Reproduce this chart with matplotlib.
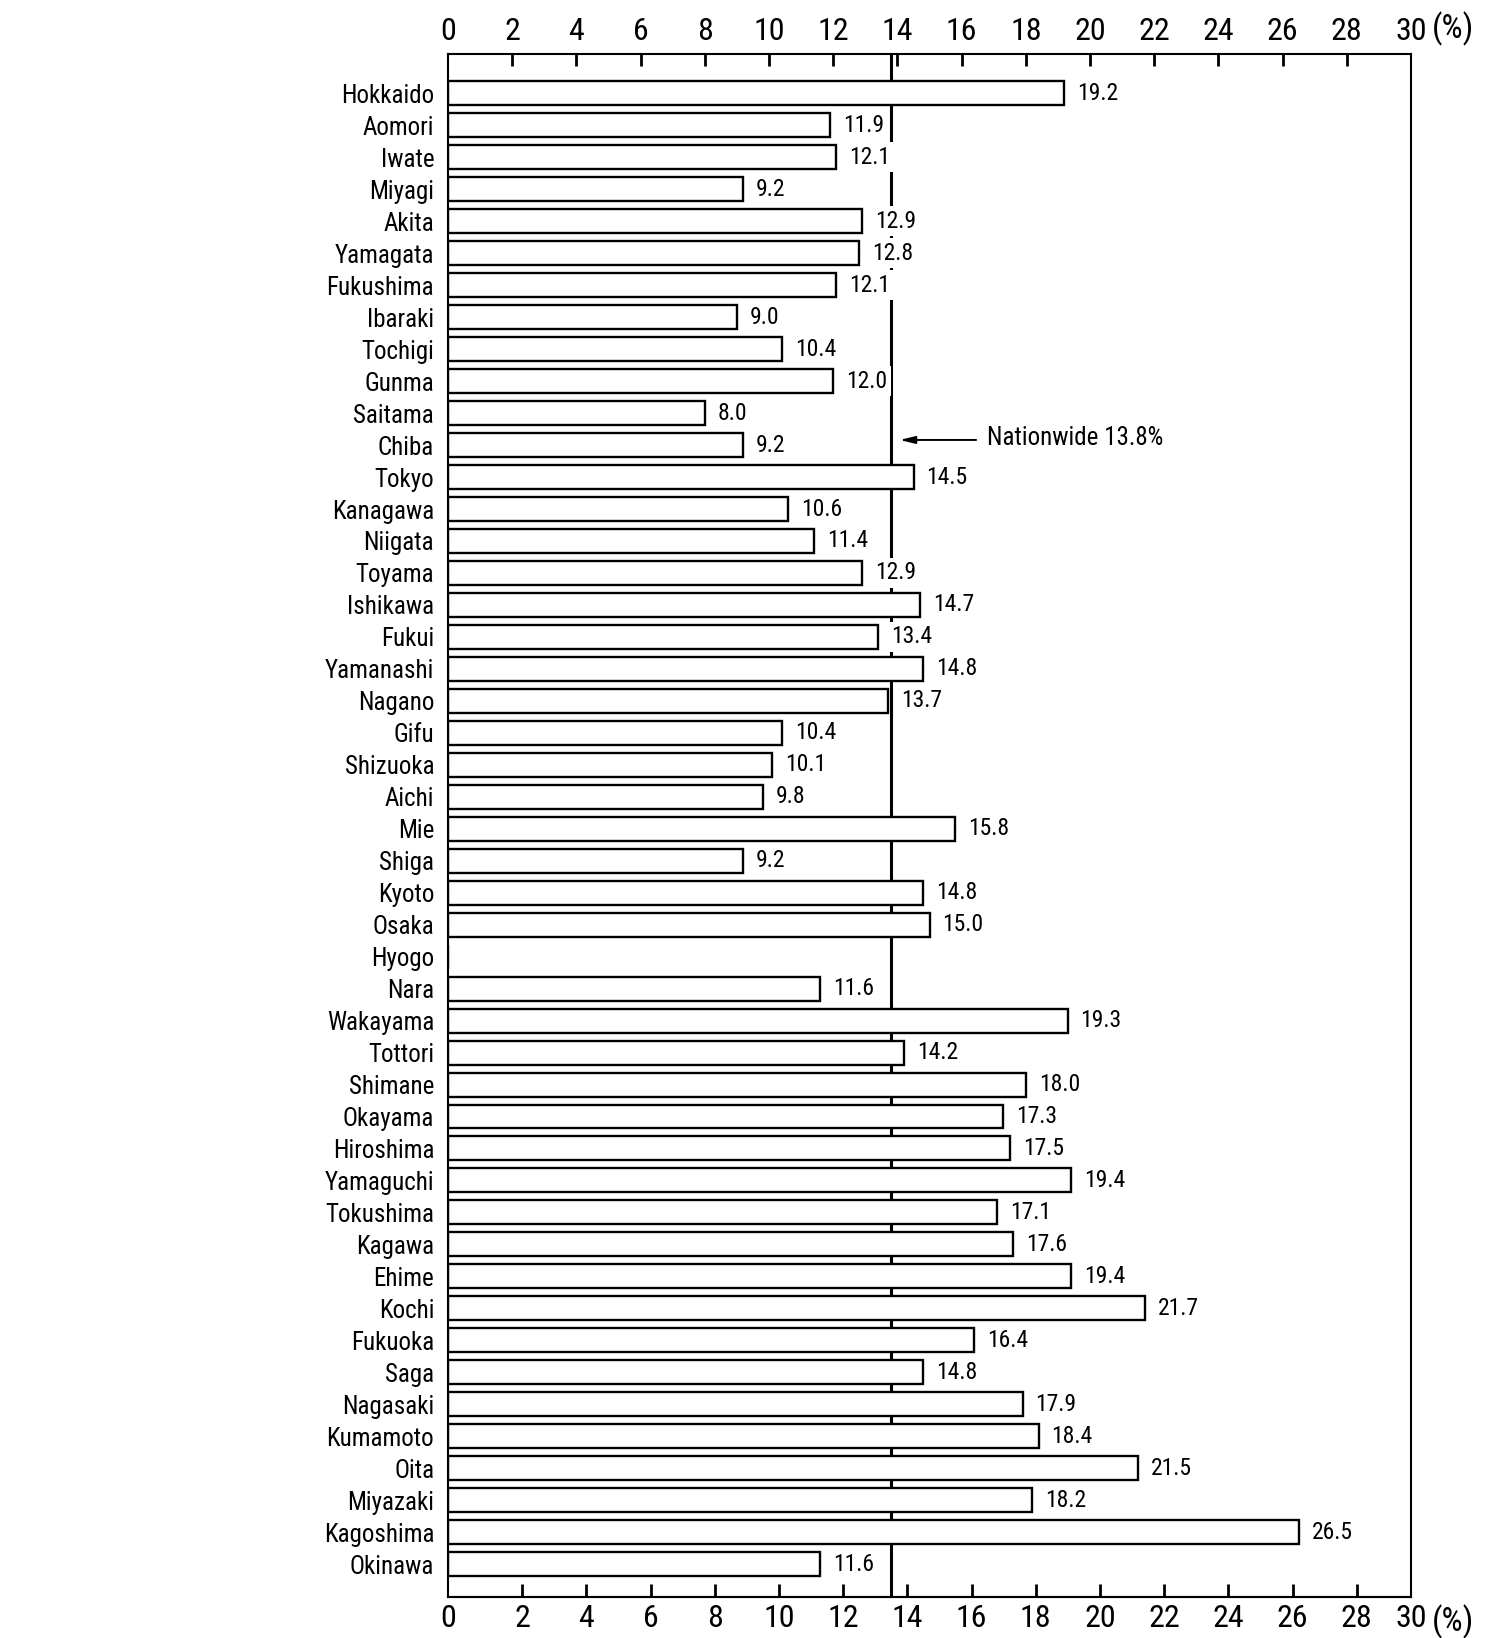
import numpy as np
import matplotlib
matplotlib.use("Agg")
import matplotlib.pyplot as plt
from matplotlib import font_manager

prefectures = ["Hokkaido", "Aomori", "Iwate", "Miyagi", "Akita", "Yamagata", "Fukushima",
               "Ibaraki", "Tochigi", "Gunma", "Saitama", "Chiba", "Tokyo", "Kanagawa",
               "Niigata", "Toyama", "Ishikawa", "Fukui", "Yamanashi", "Nagano", "Gifu",
               "Shizuoka", "Aichi", "Mie", "Shiga", "Kyoto", "Osaka", "Hyogo", "Nara",
               "Wakayama", "Tottori", "Shimane", "Okayama", "Hiroshima", "Yamaguchi",
               "Tokushima", "Kagawa", "Ehime", "Kochi", "Fukuoka", "Saga", "Nagasaki",
               "Kumamoto", "Oita", "Miyazaki", "Kagoshima", "Okinawa"]
values = [19.2, 11.9, 12.1, 9.2, 12.9, 12.8, 12.1,
          9.0, 10.4, 12.0, 8.0, 9.2, 14.5, 10.6,
          11.4, 12.9, 14.7, 13.4, 14.8, 13.7, 10.4,
          10.1, 9.8, 15.8, 9.2, 14.8, 15.0, np.nan, 11.6,
          19.3, 14.2, 18.0, 17.3, 17.5, 19.4,
          17.1, 17.6, 19.4, 21.7, 16.4, 14.8, 17.9,
          18.4, 21.5, 18.2, 26.5, 11.6]
nationwide = 13.8
nationwide_label = "Nationwide 13.8%"
tick_values = list(range(0, 31, 2))
tick_labels = [str(v) for v in tick_values]
unit_label = "(%)"

available = {f.name for f in font_manager.fontManager.ttflist}
candidates = ["Liberation Sans Narrow", "Roboto Condensed", "Archivo Narrow", "PT Sans Narrow",
              "Arial Narrow", "Nimbus Sans Narrow", "Fira Sans Condensed",
              "IBM Plex Sans Condensed", "Encode Sans Condensed", "Open Sans Condensed",
              "Roboto", "Liberation Sans"]
chosen = next((c for c in candidates if c in available), "DejaVu Sans")
plt.rcParams["font.family"] = [chosen, "DejaVu Sans"]

TICK_FS = 23

fig = plt.figure(figsize=(14.88, 16.38), dpi=100)
ax = fig.add_axes([0.3011, 0.025, 0.6472, 0.942])

y = np.arange(len(prefectures))
vals = np.array(values, dtype=float)

# nationwide line (behind the white bars)
ax.axvline(nationwide, color="black", lw=2.2, zorder=1)

ax.barh(y, np.nan_to_num(vals), height=0.75, color="white", edgecolor="black",
        linewidth=1.7, zorder=2)

for yi, v in zip(y, vals):
    if np.isnan(v):
        continue
    ax.text(v + 0.4, yi, f"{v:.1f}", va="center", ha="left", fontsize=17,
            zorder=3, bbox=dict(facecolor="white", edgecolor="none", pad=2.5))

ax.set_xlim(0, 30)
ax.set_ylim(len(prefectures) - 1 + 1.03, -1.23)
ax.set_yticks(y)
ax.set_yticklabels(prefectures, fontsize=18)
ax.tick_params(axis="y", length=0, pad=10)

# top axis
ax.xaxis.set_ticks_position("top")
ax.set_xticks(tick_values)
ax.set_xticklabels(tick_labels, fontsize=TICK_FS)
ax.tick_params(axis="x", direction="in", length=8.6, width=2, pad=6,
               top=True, bottom=False)
ax.xaxis.get_major_ticks()[0].tick2line.set_visible(False)
ax.xaxis.get_major_ticks()[-1].tick2line.set_visible(False)

# bottom axis (its inner ticks sit slightly right of the top ones, as in the original)
sec = ax.secondary_xaxis("bottom")
shift = 0.31
bpos = [tick_values[0]] + [v + shift for v in tick_values[1:-1]] + [tick_values[-1]]
sec.set_xticks(bpos)
sec.set_xticklabels(tick_labels, fontsize=TICK_FS)
sec.tick_params(axis="x", direction="in", length=9.5, width=2, pad=5)
sec.spines["bottom"].set_linewidth(1.5)
sec.xaxis.get_major_ticks()[0].tick1line.set_visible(False)
sec.xaxis.get_major_ticks()[-1].tick1line.set_visible(False)

for s in ax.spines.values():
    s.set_linewidth(1.5)

# unit label after the "30" tick labels
ax.annotate(unit_label, xy=(30, 1), xycoords=("data", "axes fraction"),
            xytext=(15, 6), textcoords="offset points", ha="left", va="bottom",
            fontsize=24, annotation_clip=False)
ax.annotate(unit_label, xy=(30, 0), xycoords=("data", "axes fraction"),
            xytext=(15, -5), textcoords="offset points", ha="left", va="top",
            fontsize=24, annotation_clip=False)

# nationwide annotation
ax.annotate("", xy=(14.07, 10.84), xytext=(16.45, 10.84),
            arrowprops=dict(arrowstyle="-|>,head_length=0.9,head_width=0.22",
                            color="black", lw=1.4, shrinkA=0, shrinkB=0), zorder=4)
ax.text(16.78, 10.78, nationwide_label, va="center", ha="left", fontsize=18, zorder=4)

fig.savefig("out.png", dpi=100, facecolor="white")
